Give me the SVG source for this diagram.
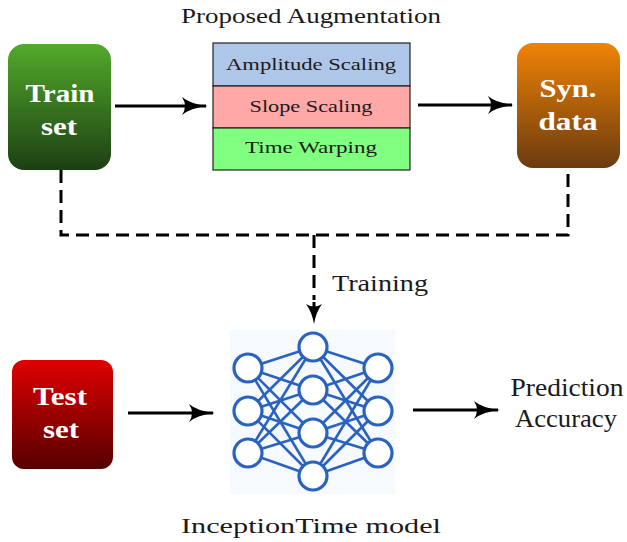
<svg xmlns="http://www.w3.org/2000/svg" width="627" height="542" viewBox="0 0 627 542">
<style>
.lbl{font-family:"Liberation Serif","Times New Roman",serif;fill:#1a1a1a}
.wt{font-family:"Liberation Serif","Times New Roman",serif;fill:#ffffff;font-weight:bold;font-size:26px}
.row{font-family:"Liberation Serif","Times New Roman",serif;fill:#1a1a1a;font-size:17px}
.arr{stroke:#000;stroke-width:3.2;fill:none}
.dash{stroke:#000;stroke-width:3;fill:none;stroke-dasharray:13 7}
.nn line{stroke:#2a62bf;stroke-width:2.6}
.nn circle{stroke:#2a62bf;stroke-width:3.2;fill:#ffffff}
</style>
<defs>
<linearGradient id="gGreen" x1="0" y1="0" x2="0" y2="1"><stop offset="0" stop-color="#53aa2b"/><stop offset="1" stop-color="#1d3f13"/></linearGradient>
<linearGradient id="gOrange" x1="0" y1="0" x2="0" y2="1"><stop offset="0" stop-color="#f08306"/><stop offset="1" stop-color="#6b3b0e"/></linearGradient>
<linearGradient id="gRed" x1="0" y1="0" x2="0" y2="1"><stop offset="0" stop-color="#e00000"/><stop offset="1" stop-color="#560000"/></linearGradient>
<marker id="ahBig" markerWidth="26" markerHeight="18" refX="24" refY="9" orient="auto" markerUnits="userSpaceOnUse"><path d="M0,0 Q8,7 26,9 Q8,11 0,18 Q6,9 0,0 Z" fill="#000"/></marker>
</defs>

<g id="train-set">
<rect x="8" y="44" width="103" height="126" rx="16" fill="url(#gGreen)"/>
<text class="wt" x="60" y="102" text-anchor="middle" textLength="69" lengthAdjust="spacingAndGlyphs">Train</text>
<text class="wt" x="59" y="135" text-anchor="middle" textLength="36" lengthAdjust="spacingAndGlyphs">set</text>
</g>

<g id="augmentation">
<text class="lbl" x="311" y="23" text-anchor="middle" font-size="22" textLength="260" lengthAdjust="spacingAndGlyphs">Proposed Augmentation</text>
<rect x="213" y="43" width="197" height="43" fill="#aec6e8" stroke="#222" stroke-width="1.2"/>
<rect x="213" y="86" width="197" height="42" fill="#ffa8a8" stroke="#222" stroke-width="1.2"/>
<rect x="213" y="128" width="197" height="42" fill="#80ff80" stroke="#222" stroke-width="1.2"/>
<text class="row" x="311" y="70" text-anchor="middle" textLength="170" lengthAdjust="spacingAndGlyphs">Amplitude Scaling</text>
<text class="row" x="311" y="112" text-anchor="middle" textLength="123" lengthAdjust="spacingAndGlyphs">Slope Scaling</text>
<text class="row" x="311" y="153" text-anchor="middle" textLength="132" lengthAdjust="spacingAndGlyphs">Time Warping</text>
</g>

<g id="syn-data">
<rect x="517" y="43" width="103" height="125" rx="16" fill="url(#gOrange)"/>
<text class="wt" x="568" y="97" text-anchor="middle" textLength="57" lengthAdjust="spacingAndGlyphs">Syn.</text>
<text class="wt" x="568" y="130" text-anchor="middle" textLength="59" lengthAdjust="spacingAndGlyphs">data</text>
</g>

<g id="test-set">
<rect x="12" y="360" width="101" height="109" rx="12" fill="url(#gRed)"/>
<text class="wt" x="60" y="405" text-anchor="middle" textLength="54" lengthAdjust="spacingAndGlyphs">Test</text>
<text class="wt" x="61" y="438" text-anchor="middle" textLength="36" lengthAdjust="spacingAndGlyphs">set</text>
</g>

<g id="inceptiontime-model">
<rect x="230" y="330" width="165" height="164" fill="#f6f9fe"/>
<g class="nn">
<line x1="248" y1="368" x2="313" y2="347"/><line x1="248" y1="368" x2="313" y2="390"/><line x1="248" y1="368" x2="313" y2="433"/><line x1="248" y1="368" x2="313" y2="476"/>
<line x1="248" y1="411" x2="313" y2="347"/><line x1="248" y1="411" x2="313" y2="390"/><line x1="248" y1="411" x2="313" y2="433"/><line x1="248" y1="411" x2="313" y2="476"/>
<line x1="248" y1="453" x2="313" y2="347"/><line x1="248" y1="453" x2="313" y2="390"/><line x1="248" y1="453" x2="313" y2="433"/><line x1="248" y1="453" x2="313" y2="476"/>
<line x1="378" y1="368" x2="313" y2="347"/><line x1="378" y1="368" x2="313" y2="390"/><line x1="378" y1="368" x2="313" y2="433"/><line x1="378" y1="368" x2="313" y2="476"/>
<line x1="378" y1="411" x2="313" y2="347"/><line x1="378" y1="411" x2="313" y2="390"/><line x1="378" y1="411" x2="313" y2="433"/><line x1="378" y1="411" x2="313" y2="476"/>
<line x1="378" y1="453" x2="313" y2="347"/><line x1="378" y1="453" x2="313" y2="390"/><line x1="378" y1="453" x2="313" y2="433"/><line x1="378" y1="453" x2="313" y2="476"/>
<circle cx="248" cy="368" r="14"/><circle cx="248" cy="411" r="14"/><circle cx="248" cy="453" r="14"/>
<circle cx="313" cy="347" r="14"/><circle cx="313" cy="390" r="14"/><circle cx="313" cy="433" r="14"/><circle cx="313" cy="476" r="14"/>
<circle cx="378" cy="368" r="14"/><circle cx="378" cy="411" r="14"/><circle cx="378" cy="453" r="14"/>
</g>
<text class="lbl" x="311" y="533" text-anchor="middle" font-size="22" textLength="260" lengthAdjust="spacingAndGlyphs">InceptionTime model</text>
</g>

<g id="prediction-accuracy">
<text class="lbl" x="567" y="396" text-anchor="middle" font-size="25" textLength="113" lengthAdjust="spacingAndGlyphs">Prediction</text>
<text class="lbl" x="566" y="427" text-anchor="middle" font-size="25" textLength="102" lengthAdjust="spacingAndGlyphs">Accuracy</text>
</g>

<g id="connectors">
<line class="arr" x1="115" y1="106" x2="206" y2="106" marker-end="url(#ahBig)"/>
<line class="arr" x1="418" y1="105" x2="512" y2="105" marker-end="url(#ahBig)"/>
<line class="arr" x1="128" y1="413" x2="213" y2="413" marker-end="url(#ahBig)"/>
<line class="arr" x1="413" y1="410" x2="498" y2="410" marker-end="url(#ahBig)"/>
<path class="dash" d="M61,170 V235 H568 V168"/>
<path class="dash" d="M314,235 V300"/>
<line x1="314" y1="298" x2="314" y2="322" stroke="#000" stroke-width="3" stroke-dasharray="13 7" stroke-dashoffset="-4"/>
<path d="M306,304 Q312,312 314,324 Q316,312 322,304 Q314,309 306,304 Z" fill="#000"/>
<text class="lbl" x="332" y="291" font-size="24" textLength="96" lengthAdjust="spacingAndGlyphs">Training</text>
</g>
</svg>
